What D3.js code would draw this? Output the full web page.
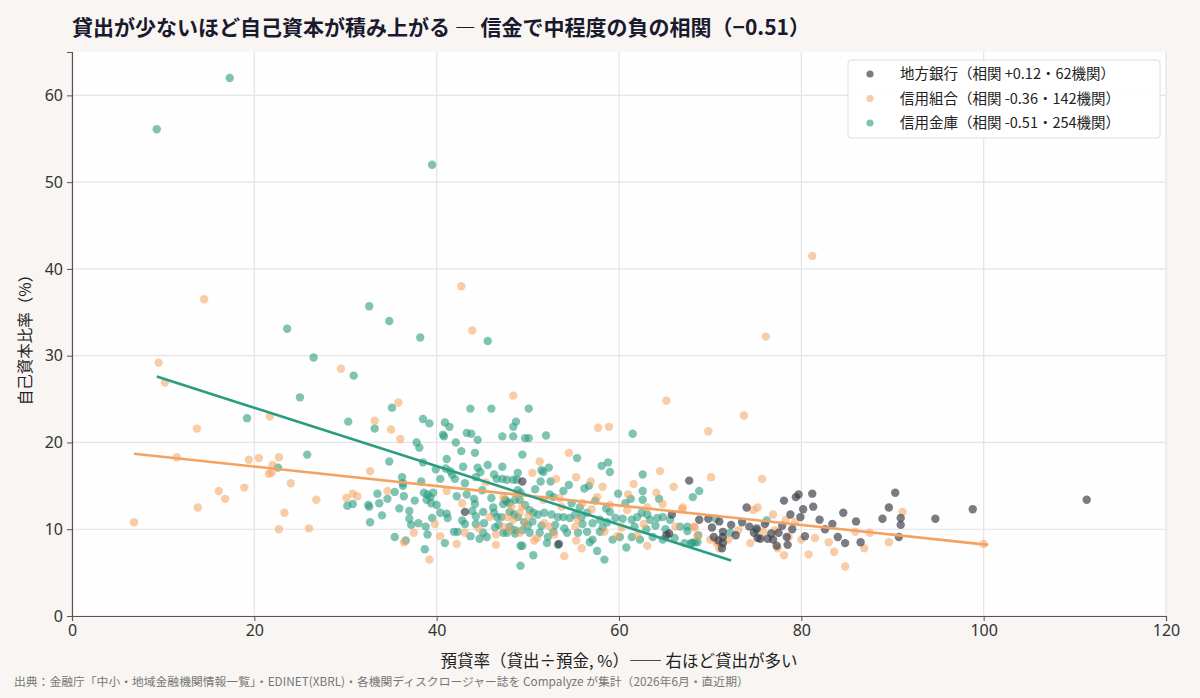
<!DOCTYPE html>
<html><head><meta charset="utf-8">
<script src="https://cdn.jsdelivr.net/npm/d3@7"></script>
<style>
html,body{margin:0;padding:0;background:#f8f5f2;}
svg{display:block;font-family:"Noto Sans CJK JP","Noto Sans",sans-serif;}
</style></head><body>
<svg id="chart" width="1200" height="698"></svg>
<script>
// ---- data (預貸率 %, 自己資本比率 %) ----
const seriesNames = ["地方銀行", "信用組合", "信用金庫"];
const legendLabels = ["地方銀行（相関 +0.12・62機関）", "信用組合（相関 -0.36・142機関）", "信用金庫（相関 -0.51・254機関）"];
const xTicks = [0, 20, 40, 60, 80, 100, 120];
const yTicks = [0, 10, 20, 30, 40, 50, 60];

const banks = [[49.4,15.5],[43.1,12.0],[53.4,8.3],[65.8,11.7],[67.7,15.6],[65.2,9.3],[65.5,9.5],[68.8,11.1],[69.8,11.2],[70.2,10.2],[70.4,9.1],[71.4,9.7],[71.4,9.1],[71.4,8.4],[71.3,7.8],[72.3,10.5],[74.0,12.5],[74.3,10.3],[75.1,10.1],[75.2,9.0],[75.5,8.9],[76.3,8.9],[76.7,9.5],[76.9,8.8],[77.3,8.1],[77.5,9.6],[78.1,13.3],[78.5,8.2],[78.4,9.1],[78.8,11.7],[79.0,10.0],[79.4,13.7],[79.7,14.0],[79.9,11.4],[80.2,12.3],[80.4,9.2],[81.2,14.1],[81.3,12.6],[82.0,11.1],[82.6,10.0],[84.0,9.1],[84.6,11.9],[84.8,8.4],[86.0,10.9],[86.5,8.5],[88.9,11.2],[89.6,12.5],[90.3,14.2],[90.9,11.3],[90.9,10.5],[90.7,9.1],[94.7,11.2],[98.8,12.3],[111.3,13.4],[72.8,9.3],[73.5,10.8],[76.0,10.6],[77.9,10.4],[71.0,10.9],[70.9,8.7],[74.8,9.6],[83.4,10.6]];

const kumiai = [[9.5,29.2],[10.2,26.9],[13.7,21.6],[11.5,18.3],[19.4,18.0],[20.5,18.2],[22.7,18.3],[22.0,17.4],[21.6,16.4],[21.9,16.5],[24.0,15.3],[21.7,23.0],[16.1,14.4],[16.8,13.5],[18.9,14.8],[13.8,12.5],[6.8,10.8],[22.7,10.0],[26.0,10.1],[23.3,11.9],[26.8,13.4],[29.5,28.5],[30.1,13.6],[30.8,14.1],[31.3,13.8],[14.5,36.5],
[42.7,38.0],[43.9,32.9],[81.2,41.5],[76.1,32.2],[48.4,25.4],[35.8,24.6],[33.2,22.5],[35.0,21.5],[36.0,20.4],
[65.2,24.8],[73.7,23.1],[69.8,21.3],[57.7,21.7],[58.9,21.8],
[32.7,16.7],[34.6,14.4],[41.1,14.4],[40.4,9.2],[36.4,8.5],[39.2,6.5],[42.2,8.3],[43.1,9.6],[46.5,8.2],[46.5,9.4],[47.3,10.3],[48.0,10.0],[49.1,9.6],[48.8,14.0],[49.4,12.6],[48.2,12.6],[49.7,10.7],
[54.5,18.8],[51.3,17.8],[50.5,16.5],[55.3,16.0],[56.9,15.5],[64.5,16.7],[64.1,14.2],[57.6,13.7],[53.5,13.6],[67.0,12.5],[51.8,10.7],[52.4,10.3],[55.2,10.3],[50.7,8.7],[51.0,9.0],[55.3,8.7],[54.0,6.9],[58.4,9.7],[63.1,8.1],[62.0,9.3],[66.2,10.3],[68.2,10.3],
[47.3,13.7],[49.1,11.9],[47.7,11.4],[48.4,11.1],[51.7,13.4],[53.7,12.6],[56.0,13.0],[59.0,12.8],[60.9,12.2],[63.1,12.5],[55.5,11.1],[60.3,10.2],
[91.1,12.0],[89.6,8.5],[86.9,7.8],[100.0,8.3],
[70.1,16.0],[75.7,15.8],[66.9,12.3],[68.3,10.2],[68.6,9.2],[70.0,8.8],[70.7,8.4],[71.0,7.8],[72.0,8.8],[74.7,12.2],[75.2,12.5],[74.4,8.4],[75.8,9.7],[77.1,9.9],[77.4,7.8],[78.1,7.0],[78.3,11.1],[78.6,9.1],[80.0,8.8],[80.8,7.1],[81.5,9.0],[83.6,7.4],[84.8,5.7],[85.9,9.7],
[44.6,10.1],[45.8,11.4],[42.8,13.0],[39.8,10.6],[37.5,9.6],[53.1,15.8],[58.2,14.9],[61.6,15.2],[62.7,10.6],[64.8,12.9],[66.0,14.9],[57.0,12.3],[59.8,9.2],[45.4,15.4],[50.1,11.6],[52.9,9.4],[76.9,11.7],[79.3,10.8],[83.0,8.5],[87.5,9.6],[73.1,9.9],[61.0,14.0],[55.9,7.8]];

const shinkin = [[9.3,56.1],[17.3,62.0],[39.5,52.0],[32.6,35.7],[34.8,34.0],[38.2,32.1],[23.6,33.1],[26.5,29.8],[45.6,31.7],[30.9,27.7],[25.0,25.2],[19.2,22.8],[30.3,22.4],[25.8,18.6],[30.2,12.7],[30.8,12.9],[22.6,17.1],
[35.1,24.0],[33.2,21.6],[38.5,22.7],[39.2,22.2],[40.9,22.3],[41.4,21.8],[43.7,23.9],[46.0,23.9],[50.1,23.9],[48.7,22.4],[48.4,21.8],[40.7,20.9],[40.8,20.7],[43.3,21.1],[43.8,21.0],[44.5,20.3],[47.2,20.7],[48.4,20.7],[49.7,20.5],[50.1,20.5],
[61.5,21.0],[52.0,20.8],
[37.8,20.0],[38.1,19.4],[42.1,20.0],[34.8,17.8],[38.5,17.7],[42.7,19.0],[44.2,18.8],[41.1,18.1],[42.9,17.2],[44.5,17.1],[44.8,16.6],[45.6,17.4],[47.2,17.2],[49.4,18.6],[48.9,16.5],[41.0,17.0],[41.5,16.7],[40.4,15.8],[41.7,16.3],[42.0,15.8],[43.1,15.3],[44.3,16.0],[46.3,16.3],[46.6,15.8],[47.2,15.8],[47.7,15.7],[48.4,15.7],[48.8,15.7],[36.2,16.0],[36.3,15.3],[36.3,15.0],[35.4,14.3],[34.6,13.5],[33.5,14.1],[32.5,12.8],[32.6,12.6],[33.7,13.0],[36.4,13.8],[38.6,14.2],[39.0,14.0],[39.3,13.7],[39.6,14.2],[38.9,13.4],[39.4,13.0],[40.0,12.8],[37.0,12.1],[40.4,11.9],[41.1,11.8],[42.2,13.8],[43.3,14.0],[44.1,13.5],[44.2,12.9],[43.9,12.1],[44.3,11.5],[45.1,12.0],[46.2,12.5],[46.3,11.9],[46.6,11.4],[47.3,12.9],[47.7,13.2],[47.1,11.4],[48.0,12.0],[48.5,11.7],[48.9,11.4],[49.6,10.8],[50.0,10.4],[37.0,11.2],[37.2,10.5],[38.0,10.7],[38.8,10.3],[39.5,11.3],[32.7,10.8],[41.2,11.3],[43.1,10.6],[44.3,10.6],[45.2,10.7],[41.9,9.7],[42.3,9.7],[45.1,9.6],[45.5,9.1],[46.4,10.2],[46.8,10.5],[47.3,9.6],[47.7,9.6],[48.6,9.5],[35.4,9.1],[36.6,8.7],[40.9,8.4],[38.7,7.7],[49.2,8.1],[49.2,5.8],
[55.4,18.2],[52.3,17.1],[51.5,16.8],[51.7,16.6],[58.1,17.3],[58.8,17.7],[59.0,16.6],[62.6,16.3],[51.4,15.5],[52.5,15.5],[54.5,15.1],[56.2,14.7],[56.7,15.0],[48.9,14.5],[49.2,14.2],[52.4,14.0],[52.8,13.7],[61.3,13.5],[62.6,14.4],[62.6,13.4],[64.4,13.5],[68.1,13.7],[68.8,14.4],
[47.5,13.4],[48.0,13.0],[48.6,13.4],[49.1,13.4],[49.7,12.8],[50.2,12.2],[50.6,11.9],[51.1,11.7],[51.8,11.9],[52.6,11.7],[53.3,11.4],[53.9,11.4],[54.6,11.3],[55.2,11.7],[55.9,11.4],[56.5,11.9],[57.1,10.7],[57.9,11.1],[58.7,10.8],[59.6,11.3],[60.4,11.2],[61.4,11.1],[62.0,11.4],[62.5,11.9],[63.1,11.7],[63.4,11.1],[64.2,11.3],[64.8,11.4],[65.6,11.1],[66.7,10.3],[67.5,10.3],[48.0,10.3],[48.6,9.9],[49.4,9.9],[50.2,9.6],[51.3,9.6],[52.2,9.1],[52.8,9.7],[54.3,9.6],[55.5,9.6],[56.5,9.7],[57.1,8.8],[57.9,9.7],[59.3,8.8],[60.1,9.1],[61.4,9.1],[62.3,8.8],[63.7,9.1],[64.8,8.8],[67.2,8.4],[68.0,8.4],[68.6,8.5],[49.4,8.1],[50.6,7.0],[52.1,8.4],[53.3,8.2],[56.8,8.5],[58.4,6.5],
[67.5,9.8],[68.7,9.3],[70.6,11.2],[72.2,9.6],[67.9,8.4],[68.3,8.5],[76.2,11.0],[75.1,9.9],
[34.0,11.6],[35.9,12.4],[37.6,13.3],[38.3,15.5],[39.9,16.9],[45.0,14.5],[46.0,13.6],[50.8,14.6],[53.9,14.4],[54.8,13.0],[55.7,12.5],[57.4,13.3],[58.6,12.4],[59.9,14.1],[60.7,13.0],[53.0,10.5],[54.0,10.1],[56.0,10.6],[58.2,10.2],[59.0,12.0],[61.7,10.3],[63.0,10.0],[64.0,10.4],[65.1,10.0],[66.1,9.0],[50.5,10.9],[51.5,10.4],[44.7,8.9],[43.7,9.2],[39.0,9.4],[57.6,7.5],[60.8,7.9],[42.8,11.0]];

// fitted trend lines (endpoints)
const trendKumiai = [[6.8,18.7],[100.5,8.2]];
const trendShinkin = [[9.3,27.6],[72.3,6.4]];

// ---- chart ----
const W = 1200, H = 698;
const m = {left:72, right:34, top:52, bottom:82};
const svg = d3.select("#chart");
svg.append("rect").attr("width",W).attr("height",H).attr("fill","#f8f5f2");

const x = d3.scaleLinear().domain([0,120]).range([m.left, W-m.right]);
const y = d3.scaleLinear().domain([0,65]).range([H-m.bottom, m.top]);

svg.append("rect").attr("x",m.left).attr("y",m.top)
  .attr("width",x.range()[1]-m.left).attr("height",y(0)-m.top).attr("fill","#fefefe");

// grid
svg.append("g").selectAll("line").data(xTicks).join("line")
  .attr("x1",d=>x(d)).attr("x2",d=>x(d)).attr("y1",m.top).attr("y2",y(0))
  .attr("stroke","#e6e2e6").attr("stroke-width",1.2);
svg.append("g").selectAll("line").data(yTicks).join("line")
  .attr("x1",m.left).attr("x2",x.range()[1]).attr("y1",d=>y(d)).attr("y2",d=>y(d))
  .attr("stroke","#e6e2e6").attr("stroke-width",1.2);

// axes
const xAxis = svg.append("g").attr("transform",`translate(0,${y(0)})`)
  .call(d3.axisBottom(x).tickValues(xTicks).tickSize(5).tickPadding(4));
const yAxis = svg.append("g").attr("transform",`translate(${m.left},0)`)
  .call(d3.axisLeft(y).tickValues(yTicks).tickSize(5).tickPadding(4));
[xAxis,yAxis].forEach(a=>{
  a.select(".domain").attr("stroke","#555").attr("stroke-width",1.2);
  a.selectAll(".tick line").attr("stroke","#555");
  a.selectAll(".tick text").attr("fill","#333").attr("font-size",16)
   .attr("font-family","'Noto Sans','DejaVu Sans',sans-serif");
});

// points
const colors = {"地方銀行":"#3c3c48","信用組合":"#f4a261","信用金庫":"#2a9d80"};
const opac = {"地方銀行":0.68,"信用組合":0.55,"信用金庫":0.6};
const layers = [["信用金庫",shinkin],["信用組合",kumiai],["地方銀行",banks]];
layers.forEach(([name,data])=>{
  svg.append("g").selectAll("circle").data(data).join("circle")
    .attr("cx",d=>x(d[0])).attr("cy",d=>y(d[1])).attr("r",4.2)
    .attr("fill",colors[name]).attr("fill-opacity",opac[name]);
});

// trend lines
const line = d3.line().x(d=>x(d[0])).y(d=>y(d[1]));
svg.append("path").datum(trendKumiai).attr("d",line).attr("fill","none")
  .attr("stroke","#f4a261").attr("stroke-width",2.6);
svg.append("path").datum(trendShinkin).attr("d",line).attr("fill","none")
  .attr("stroke","#2a9d80").attr("stroke-width",2.6);

// legend
const lg = svg.append("g");
lg.append("rect").attr("x",848).attr("y",60).attr("width",312).attr("height",78)
  .attr("rx",3).attr("fill","#ffffff").attr("fill-opacity",0.9).attr("stroke","#dddddd");
seriesNames.forEach((n,i)=>{
  const yy = 74 + i*24.5;
  lg.append("circle").attr("cx",870).attr("cy",yy).attr("r",3.6)
    .attr("fill",colors[n]).attr("fill-opacity",opac[n]);
  lg.append("text").attr("x",900).attr("y",yy).attr("dy","0.35em")
    .attr("font-size",14.5).attr("fill","#222").text(legendLabels[i]);
});

// titles
svg.append("text").attr("x",72).attr("y",35).attr("font-size",21).attr("font-weight","bold")
  .attr("fill","#1a1a2e").text("貸出が少ないほど自己資本が積み上がる ― 信金で中程度の負の相関（−0.51）");
svg.append("text").attr("x",619).attr("y",667).attr("text-anchor","middle")
  .attr("font-size",16.5).attr("fill","#222").text("預貸率（貸出÷預金, %）―― 右ほど貸出が多い");
svg.append("text").attr("transform",`translate(31,${(m.top+y(0))/2+2}) rotate(-90)`)
  .attr("text-anchor","middle").attr("font-size",15.5).attr("fill","#222").text("自己資本比率（%）");
svg.append("text").attr("x",14).attr("y",686).attr("font-size",11.8).attr("fill","#777")
  .text("出典：金融庁「中小・地域金融機関情報一覧」・EDINET(XBRL)・各機関ディスクロージャー誌を Compalyze が集計（2026年6月・直近期）");
</script>
</body></html>
